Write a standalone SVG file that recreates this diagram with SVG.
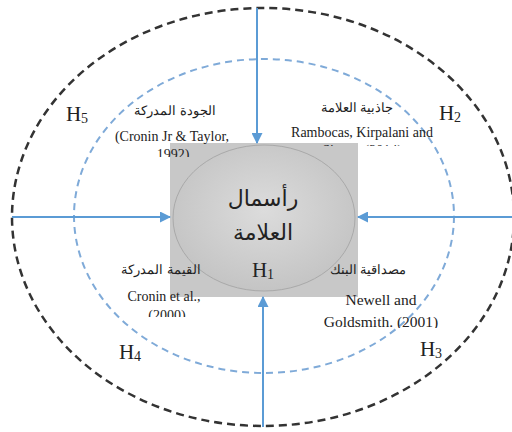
<svg xmlns="http://www.w3.org/2000/svg" width="512" height="432" viewBox="0 0 512 432">
<defs>
<style>
.en{font-family:"Liberation Serif","Times New Roman",serif;font-size:14px;fill:#222;text-anchor:middle}
.en2{font-family:"Liberation Serif","Times New Roman",serif;font-size:15.5px;fill:#222;text-anchor:middle}
.ar{font-family:"Liberation Serif","DejaVu Serif",serif;font-size:13px;fill:#222;text-anchor:middle}
.h{font-family:"Liberation Serif","Times New Roman",serif;font-size:21px;fill:#222;text-anchor:middle}
.sub{font-size:14px}
.conn{stroke:#5b9bd5;stroke-width:2;fill:none}
</style>
<marker id="arr" markerWidth="11" markerHeight="11" refX="10" refY="5.5" orient="auto" markerUnits="userSpaceOnUse">
<path d="M0,0 L11,5.5 L0,11 Z" fill="#5b9bd5"/>
</marker>
<radialGradient id="eg" cx="50%" cy="45%" r="60%">
<stop offset="0" stop-color="#dcdcdc"/>
<stop offset="1" stop-color="#c2c2c2"/>
</radialGradient>
<clipPath id="c1"><rect x="0" y="0" width="512" height="157"/></clipPath>
<clipPath id="c2"><rect x="0" y="0" width="512" height="146"/></clipPath>
<clipPath id="c3"><rect x="0" y="0" width="512" height="317"/></clipPath>
<clipPath id="c4"><rect x="0" y="0" width="512" height="328"/></clipPath>
</defs>
<rect width="512" height="432" fill="#fff"/>
<g id="outer">
<ellipse cx="263" cy="217" rx="251" ry="209" fill="none" stroke="#333" stroke-width="2.5" stroke-dasharray="8 5"/>
</g>
<g id="inner">
<ellipse cx="264" cy="216" rx="190" ry="157" fill="none" stroke="#7faad8" stroke-width="2" stroke-dasharray="7 5"/>
</g>
<g id="h1">
<rect x="170" y="143" width="188" height="154" fill="#c8c8c8"/>
<ellipse cx="264" cy="218" rx="91" ry="73" fill="url(#eg)" stroke="#a9a9a9" stroke-width="1"/>
<text x="263" y="206" font-family="'DejaVu Sans','Noto Sans',sans-serif" font-size="22" fill="#222" text-anchor="middle">رأسمال</text>
<text x="263" y="240" font-family="'DejaVu Sans','Noto Sans',sans-serif" font-size="22" fill="#222" text-anchor="middle">العلامة</text>
<text class="h" x="263" y="277">H<tspan class="sub" dy="2">1</tspan></text>
</g>
<g id="labels">
<text class="h" x="77" y="121">H<tspan class="sub" dy="2">5</tspan></text>
<text class="h" x="450" y="120">H<tspan class="sub" dy="2">2</tspan></text>
<text class="h" x="130" y="359">H<tspan class="sub" dy="2">4</tspan></text>
<text class="h" x="431" y="356">H<tspan class="sub" dy="2">3</tspan></text>
</g>
<g id="n5">
<text class="ar" x="175" y="115">الجودة المدركة</text>
<text class="en" x="172" y="141">(Cronin Jr &amp; Taylor,</text>
<text class="en" x="173" y="159" clip-path="url(#c1)">1992)</text>
</g>
<g id="n2">
<text class="ar" x="357" y="112">جاذبية العلامة</text>
<text class="en" x="362" y="137">Rambocas, Kirpalani and</text>
<text class="en" x="362" y="155" clip-path="url(#c2)">Simms (2014)</text>
</g>
<g id="n4">
<text class="ar" x="161" y="274">القيمة المدركة</text>
<text class="en" x="164" y="301">Cronin et al.,</text>
<text class="en" x="167" y="320" clip-path="url(#c3)">(2000)</text>
</g>
<g id="n3">
<text class="ar" x="368" y="274">مصداقية البنك</text>
<text class="en2" x="381" y="305">Newell and</text>
<text class="en2" x="381" y="327" clip-path="url(#c4)">Goldsmith. (2001)</text>
</g>
<g id="connectors">
<line class="conn" x1="257" y1="8" x2="257" y2="143" marker-end="url(#arr)"/>
<line class="conn" x1="263" y1="427" x2="263" y2="297" marker-end="url(#arr)"/>
<line class="conn" x1="12" y1="217" x2="170" y2="217" marker-end="url(#arr)"/>
<line class="conn" x1="512" y1="217" x2="358" y2="217" marker-end="url(#arr)"/>
</g>
</svg>
